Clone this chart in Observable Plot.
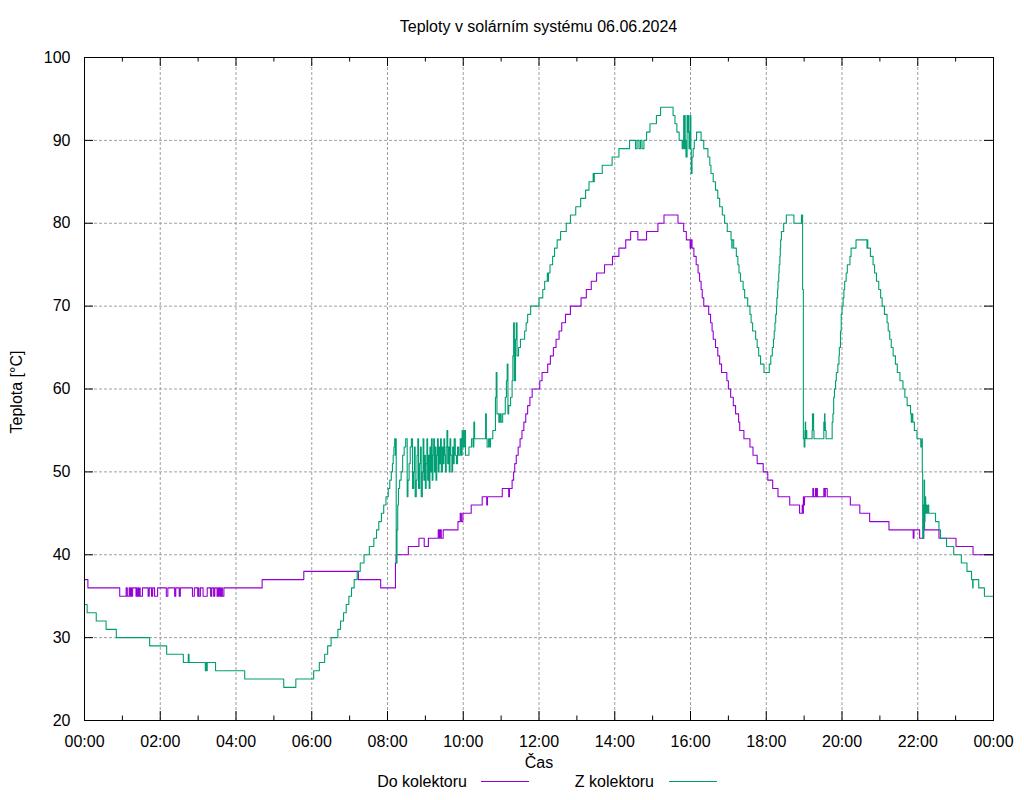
<!DOCTYPE html>
<html>
<head>
<meta charset="utf-8">
<script src="https://cdn.jsdelivr.net/npm/d3@7"></script>
<script src="https://cdn.jsdelivr.net/npm/@observablehq/plot@0.6"></script>
<style>
  html, body { margin: 0; padding: 0; background: #fff; }
  body { font-family: "Liberation Sans", Arial, sans-serif; color: #000; }
  #wrap { position: relative; width: 1024px; height: 800px; overflow: hidden; }
  #title { position: absolute; left: 84px; width: 909px; top: 19px; text-align: center; font-size: 16px; line-height: 16px; }
  #chart { position: absolute; left: 0; top: 40px; }
  #legend { position: absolute; left: 0; top: 772px; }
</style>
</head>
<body>
<div id="wrap">
  <div id="title">Teploty v solárním systému 06.06.2024</div>
  <div id="chart"></div>
  <div id="legend"></div>
</div>
<script>
// ---- data (time in hours, temperature in °C) ----
const seriesNames = ["Do kolektoru", "Z kolektoru"];
const seriesColors = ["#9400d3", "#009e73"];
const hourTicks = [0, 2, 4, 6, 8, 10, 12, 14, 16, 18, 20, 22, 24];
const minorHourTicks = [1, 3, 5, 7, 9, 11, 13, 15, 17, 19, 21, 23];
const tempTicks = [20, 30, 40, 50, 60, 70, 80, 90, 100];

const doKolektoru = [
  [0,37],[0.09,36],
  [0.93,35],[1.10,36],[1.13,35],[1.18,36],[1.21,35],[1.23,36],[1.24,35],[1.27,36],[1.36,35],[1.38,36],[1.39,35],[1.42,36],[1.43,35],[1.46,36],[1.47,35],[1.53,36],
  [1.68,35],[1.71,36],[1.77,35],[1.80,36],[1.85,35],[1.93,36],
  [2.16,35],[2.20,36],[2.38,35],[2.41,36],[2.50,35],[2.53,36],
  [2.85,35],[2.90,36],[2.99,35],[3.01,36],[3.02,35],[3.06,36],[3.13,35],[3.24,36],[3.33,35],[3.36,36],[3.41,35],[3.44,36],[3.50,35],[3.53,36],[3.54,35],[3.56,36],[3.59,35],[3.62,36],[3.64,35],[3.68,36],
  [4.69,37],[5.79,38],[7.23,37],[7.82,36],[8.21,39],[8.23,40],[8.55,41],[8.83,42],[8.97,41],[9.08,42],[9.34,43],[9.37,42],[9.39,43],[9.42,42],[9.47,43],
  [9.86,44],[9.92,45],[9.95,44],[9.99,45],[10.21,46],[10.50,47],[10.62,46],[10.64,47],[11.03,48],[11.20,47],[11.22,48],
  [11.29,49],[11.33,50],[11.36,51],[11.40,52],[11.45,53],[11.50,54],[11.55,55],[11.60,56],[11.65,57],[11.70,58],[11.76,59],[11.82,60],
  [12.02,61],[12.08,62],[12.23,63],[12.30,64],[12.38,65],[12.45,66],[12.53,67],[12.60,68],[12.70,69],[12.83,70],
  [13.11,71],[13.25,72],[13.38,73],[13.52,74],[13.73,75],[13.94,76],[14.11,77],[14.29,78],[14.42,79],[14.61,78],[14.84,79],[15.14,80],[15.30,81],
  [15.67,80],[15.82,79],[15.89,78],[15.99,77],[16.01,78],[16.04,77],[16.09,76],[16.15,75],[16.20,74],[16.24,73],[16.28,72],[16.31,71],[16.35,70],
  [16.48,69],[16.53,68],[16.57,67],[16.60,66],[16.66,65],[16.72,64],[16.77,63],[16.82,62],[16.96,61],[17.00,60],[17.06,59],[17.13,58],[17.19,57],
  [17.27,56],[17.30,55],[17.41,54],[17.57,53],[17.65,52],[17.76,51],[17.92,50],[18.04,49],[18.17,48],[18.31,47],[18.62,46],[18.88,45],
  [18.95,46],[18.96,45],[18.98,47],[18.99,46],[19.01,47],[19.23,48],[19.25,47],[19.30,48],[19.32,47],[19.33,48],[19.35,47],[19.52,48],[19.55,47],[19.56,48],[19.61,47],
  [20.22,46],[20.47,45],[20.73,44],[21.24,43],[21.88,42],[21.90,43],[22.05,42],[22.16,45],[22.18,43],[22.56,42],[23.01,41],[23.46,40],[24,40]
];

const zKolektoru = [
  [0,34],[0.07,33],[0.31,32],[0.57,31],[0.84,30],[1.72,29],[2.17,28],[2.61,27],[2.74,28],[2.76,27],[3.19,26],[3.21,27],[3.22,26],[3.24,27],[3.46,26],
  [4.23,25],[5.26,24],[5.58,25],[6.05,26],[6.20,27],[6.34,28],[6.42,29],[6.51,30],[6.69,31],[6.76,32],[6.84,33],[6.91,34],[6.98,35],[7.05,36],
  [7.12,37],[7.20,38],[7.28,39],[7.38,40],[7.52,41],[7.64,42],[7.71,43],[7.77,44],[7.84,45],[7.90,46],[7.96,47],[8.02,48],[8.06,49],[8.10,50],
  [8.13,51],[8.15,52],[8.17,53],[8.19,54],[8.21,52],[8.22,54],[8.23,39],[8.25,43],[8.27,46],[8.29,48],
  [8.32,49],[8.36,50],[8.40,52],[8.44,53],[8.48,54],[8.52,47],[8.54,49],[8.57,51],[8.60,53],[8.63,54],[8.66,48],[8.69,50],[8.71,53],[8.73,47],
  [8.76,49],[8.78,52],[8.80,54],[8.82,48],[8.85,51],[8.87,53],[8.89,47],[8.92,50],[8.94,54],[8.96,49],[8.98,52],[9.00,48],[9.02,51],[9.04,54],
  [9.06,49],[9.08,52],[9.10,48],[9.12,53],[9.14,50],[9.16,54],[9.18,49],[9.20,52],[9.22,54],[9.24,50],[9.26,53],[9.28,49],[9.30,52],[9.32,54],
  [9.34,50],[9.36,53],[9.38,51],[9.40,54],[9.42,50],[9.45,53],[9.47,51],[9.49,54],[9.51,52],[9.53,50],[9.55,53],[9.57,55],[9.59,51],[9.61,53],
  [9.63,50],[9.65,54],[9.67,52],[9.70,50],[9.72,53],[9.74,51],[9.76,54],[9.79,52],[9.82,51],[9.85,53],[9.88,52],[9.92,54],[9.95,52],[9.97,55],
  [10.00,53],[10.03,55],[10.06,52],[10.15,53],[10.22,54],[10.26,53],[10.28,56],[10.30,54],[10.59,57],[10.61,54],[10.63,53],[10.67,54],[10.70,53],
  [10.72,54],[10.78,55],[10.85,59],[10.87,62],[10.89,57],[10.94,56],[10.97,57],[11.00,56],[11.04,57],[11.11,59],[11.14,61],[11.16,63],[11.18,57],
  [11.20,58],[11.25,59],[11.29,61],[11.31,64],[11.33,68],[11.35,61],[11.38,66],[11.40,68],[11.42,64],[11.46,65],[11.51,66],[11.62,67],[11.66,68],
  [11.70,69],[11.78,70],[12.00,71],[12.10,72],[12.15,73],[12.22,74],[12.24,73],[12.25,74],[12.29,75],[12.36,76],[12.41,77],[12.48,78],[12.57,79],
  [12.72,80],[12.83,81],[12.97,82],[13.10,83],[13.23,84],[13.32,85],[13.43,86],[13.45,85],[13.46,86],[13.67,87],[13.93,88],[14.11,89],[14.39,90],
  [14.55,89],[14.59,90],[14.64,89],[14.68,90],[14.72,89],[14.77,90],[14.84,91],[14.93,92],[15.10,93],[15.21,94],[15.54,93],[15.59,92],[15.64,91],
  [15.70,90],[15.78,89],[15.80,90],[15.82,93],[15.83,89],[15.85,93],[15.86,90],[15.88,88],[15.91,93],[15.93,91],[15.95,93],[15.96,89],[15.98,91],
  [16.00,93],[16.01,89],[16.02,86],[16.04,88],[16.07,89],[16.10,90],[16.16,91],[16.28,90],[16.35,89],[16.46,88],[16.51,87],[16.54,86],[16.60,85],
  [16.66,84],[16.72,83],[16.77,82],[16.84,81],[16.90,80],[16.97,79],[17.07,78],[17.09,77],[17.10,78],[17.14,77],[17.21,76],[17.25,75],[17.28,74],
  [17.32,73],[17.39,72],[17.43,71],[17.51,70],[17.57,69],[17.60,68],[17.64,67],[17.72,66],[17.76,65],[17.80,64],[17.85,63],[17.94,62],[18.08,63],
  [18.12,64],[18.16,65],[18.19,66],[18.21,67],[18.23,68],[18.25,69],[18.27,70],[18.28,71],[18.30,72],[18.31,73],[18.33,74],[18.34,75],[18.36,76],
  [18.37,77],[18.38,78],[18.40,79],[18.46,80],[18.53,81],[18.73,80],[18.93,81],[18.96,72],[18.98,54],[19.00,53],[19.02,55],[19.03,56],[19.04,54],
  [19.06,55],[19.07,54],[19.21,55],[19.22,57],[19.23,56],[19.24,57],[19.25,55],[19.26,54],[19.52,56],[19.53,55],[19.54,57],[19.55,56],[19.56,55],
  [19.58,54],[19.74,56],[19.76,57],[19.78,59],[19.80,60],[19.83,61],[19.85,62],[19.89,63],[19.92,64],[19.93,65],[19.96,67],[19.98,69],[20.00,70],
  [20.03,71],[20.05,72],[20.07,73],[20.11,74],[20.14,75],[20.21,76],[20.24,77],[20.37,78],[20.66,77],[20.67,78],[20.68,77],[20.75,76],[20.82,75],
  [20.86,74],[20.91,73],[20.97,72],[21.02,71],[21.06,70],[21.12,69],[21.19,68],[21.22,67],[21.26,66],[21.30,65],[21.35,64],[21.41,63],[21.46,62],
  [21.53,61],[21.61,60],[21.66,59],[21.72,58],[21.81,57],[21.83,56],[21.84,57],[21.87,56],[21.91,55],[21.98,54],[22.08,53],[22.11,54],[22.12,50],
  [22.13,42],[22.15,46],[22.16,43],[22.17,49],[22.18,44],[22.19,47],[22.21,45],[22.22,46],[22.24,45],[22.27,46],[22.29,45],[22.47,44],[22.56,43],
  [22.60,42],[22.76,41],[22.95,40],[23.15,39],[23.30,38],[23.42,37],[23.45,36],[23.46,37],[23.61,36],[23.76,35],[24,35]
];

// ---- layout ----
const W = 1024, H = 736;
const mL = 84, mR = 31, mT = 17, mB = 56;
const frameW = W - mL - mR, frameH = H - mT - mB;
const majorLen = 9, minorLen = 4.5;
const gridStyle = {stroke: "#a0a0a0", strokeWidth: 1, strokeDasharray: "3,2"};
const fmtHour = h => String(h % 24).padStart(2, "0") + ":00";

const chart = Plot.plot({
  width: W, height: H,
  marginLeft: mL, marginRight: mR, marginTop: mT, marginBottom: mB,
  style: {fontSize: "16px", fontFamily: "'Liberation Sans', Arial, sans-serif", color: "#000", background: "transparent"},
  x: {domain: [0, 24], ticks: hourTicks, tickFormat: fmtHour, tickSize: 0, tickPadding: 15, label: null},
  y: {domain: [20, 100], ticks: tempTicks, tickSize: 0, tickPadding: 14, label: null},
  marks: [
    Plot.ruleX(hourTicks.slice(1, -1), gridStyle),
    Plot.ruleY(tempTicks.slice(1, -1), gridStyle),
    Plot.line(doKolektoru, {x: d => d[0], y: d => d[1], curve: "step-after", stroke: seriesColors[0], strokeWidth: 1.1}),
    Plot.line(zKolektoru, {x: d => d[0], y: d => d[1], curve: "step-after", stroke: seriesColors[1], strokeWidth: 1.1}),
    Plot.ruleX(hourTicks, {stroke: "#000", insetTop: frameH - majorLen}),
    Plot.ruleX(hourTicks, {stroke: "#000", insetBottom: frameH - majorLen}),
    Plot.ruleX(minorHourTicks, {stroke: "#000", insetTop: frameH - minorLen}),
    Plot.ruleX(minorHourTicks, {stroke: "#000", insetBottom: frameH - minorLen}),
    Plot.ruleY(tempTicks, {stroke: "#000", insetRight: frameW - majorLen}),
    Plot.ruleY(tempTicks, {stroke: "#000", insetLeft: frameW - majorLen}),
    Plot.frame({stroke: "#000"}),
    Plot.text(["Čas"], {frameAnchor: "bottom", dy: 47, fontSize: 16, fill: "#000"}),
    Plot.text(["Teplota [°C]"], {frameAnchor: "left", textAnchor: "middle", dx: -68, dy: 3, rotate: -90, fontSize: 16, fill: "#000"})
  ]
});
document.getElementById("chart").appendChild(chart);

// legend below the plot (gnuplot style: text, then a line sample)
const legendTextRight = [467, 654];
const legendLineLeft = [481, 669];
const lg = d3.select("#legend").append("svg")
  .attr("width", 1024).attr("height", 28)
  .style("display", "block");
seriesNames.forEach((name, i) => {
  lg.append("text")
    .attr("x", legendTextRight[i]).attr("y", 15)
    .attr("text-anchor", "end")
    .attr("font-family", "'Liberation Sans', Arial, sans-serif")
    .attr("font-size", 16)
    .attr("fill", "#000")
    .text(name);
  lg.append("line")
    .attr("x1", legendLineLeft[i]).attr("x2", legendLineLeft[i] + 48)
    .attr("y1", 9.5).attr("y2", 9.5)
    .attr("stroke", seriesColors[i])
    .attr("stroke-width", 1.1);
});
</script>
</body>
</html>
